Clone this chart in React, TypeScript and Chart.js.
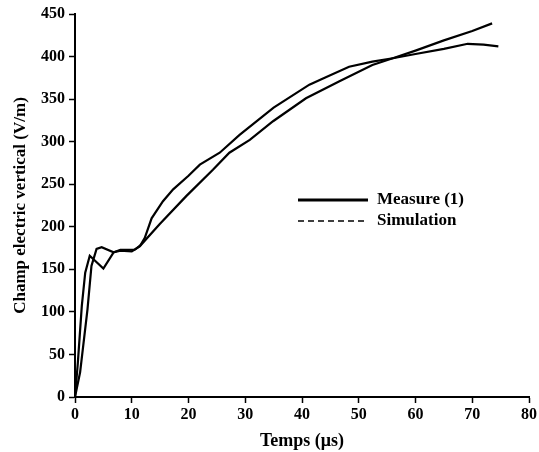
import React, { useEffect, useRef } from "react";
import { Chart, registerables } from "chart.js";

Chart.register(...registerables);

const measureX = [0, 0.5, 1.2, 1.8, 2.6, 5.0, 6.8, 8, 10.5, 11.5, 12.3, 13.5, 15.5, 17.3, 20, 22, 25.5, 29, 35, 41.3, 44, 48.3, 52.4, 56, 60, 65, 69.2, 72, 74.6];
const measureY = [0, 40, 107, 146, 166, 151, 170, 173, 173, 178, 187, 210, 230, 244, 260, 273, 287, 308, 340, 367, 375, 388, 394, 398, 403, 409, 415, 414, 412];

const simX = [0, 0.9, 2.2, 2.9, 3.8, 4.7, 6.8, 8, 10, 11.4, 14.9, 19.6, 24.3, 27.2, 30.8, 34.9, 40.7, 46.6, 52.4, 56, 60, 65, 70, 73.5];
const simY = [0, 29, 103, 154, 174, 176, 170, 172, 171, 177, 203, 236, 267, 287, 302, 324, 351, 371, 390, 398, 407, 419, 430, 439];

const seriesLabels = ["Measure (1)", "Simulation"];
const xTitle = "Temps (\u03bcs)";
const yTitle = "Champ electric vertical (V/m)";

const FONT = "'Liberation Serif', 'Times New Roman', serif";

const legendPlugin = {
  id: "inlineLegend",
  afterDatasetsDraw(chart: any) {
    const ctx = chart.ctx;
    const ca = chart.chartArea;
    const x0 = ca.left + 223;
    const x1 = ca.left + 293;
    const tx = ca.left + 302;
    const rows = [ca.top + 186, ca.top + 207];
    ctx.save();
    ctx.strokeStyle = "#000";
    ctx.fillStyle = "#000";
    ctx.font = `bold 17px ${FONT}`;
    ctx.textBaseline = "middle";
    ctx.textAlign = "left";
    ctx.lineWidth = 3;
    ctx.setLineDash([]);
    ctx.beginPath();
    ctx.moveTo(x0, rows[0]);
    ctx.lineTo(x1, rows[0]);
    ctx.stroke();
    ctx.fillText(seriesLabels[0], tx, rows[0]);
    ctx.lineWidth = 1.5;
    ctx.setLineDash([6, 4]);
    ctx.beginPath();
    ctx.moveTo(x0, rows[1]);
    ctx.lineTo(x1, rows[1]);
    ctx.stroke();
    ctx.setLineDash([]);
    ctx.fillText(seriesLabels[1], tx, rows[1]);
    ctx.restore();
  },
};

export default function App() {
  const ref = useRef<HTMLCanvasElement>(null);
  useEffect(() => {
    if (!ref.current) return;
    const chart = new Chart(ref.current, {
      type: "scatter",
      data: {
        datasets: [
          {
            label: seriesLabels[0],
            data: measureX.map((x, i) => ({ x, y: measureY[i] })),
            showLine: true,
            borderColor: "#000",
            borderWidth: 2.2,
            pointRadius: 0,
            fill: false,
          },
          {
            label: seriesLabels[1],
            data: simX.map((x, i) => ({ x, y: simY[i] })),
            showLine: true,
            borderColor: "#000",
            borderWidth: 2.2,
            pointRadius: 0,
            fill: false,
          },
        ],
      },
      options: {
        animation: false,
        responsive: false,
        maintainAspectRatio: false,
        layout: { padding: { top: 14, right: 9, left: 0, bottom: 0 } },
        plugins: { legend: { display: false }, tooltip: { enabled: false } },
        scales: {
          x: {
            type: "linear",
            min: 0,
            max: 80,
            ticks: { stepSize: 10, color: "#000", font: { family: FONT, size: 16, weight: "bold" }, padding: 2 },
            grid: { drawOnChartArea: false, color: "#000", tickLength: 6, tickWidth: 1.5 },
            border: { color: "#000", width: 2 },
            title: { display: true, text: xTitle, color: "#000", font: { family: FONT, size: 18, weight: "bold" }, padding: { top: 0, bottom: 0 } },
            afterFit: (s: any) => { s.height = 55; },
          },
          y: {
            type: "linear",
            min: 0,
            max: 450,
            ticks: { stepSize: 50, color: "#000", font: { family: FONT, size: 16, weight: "bold" }, padding: 4 },
            grid: { drawOnChartArea: false, color: "#000", tickLength: 6, tickWidth: 1.5 },
            border: { color: "#000", width: 2 },
            title: { display: true, text: yTitle, color: "#000", font: { family: FONT, size: 17, weight: "bold" }, padding: { top: 10, bottom: 4 } },
            afterFit: (s: any) => { s.width = 75; },
          },
        },
      },
      plugins: [legendPlugin],
    });
    return () => chart.destroy();
  }, []);
  return (
    <div style={{ position: "fixed", left: 0, top: 0, width: 539, height: 452, background: "#fff" }}>
      <canvas ref={ref} width={539} height={452} style={{ width: 539, height: 452 }} />
    </div>
  );
}
